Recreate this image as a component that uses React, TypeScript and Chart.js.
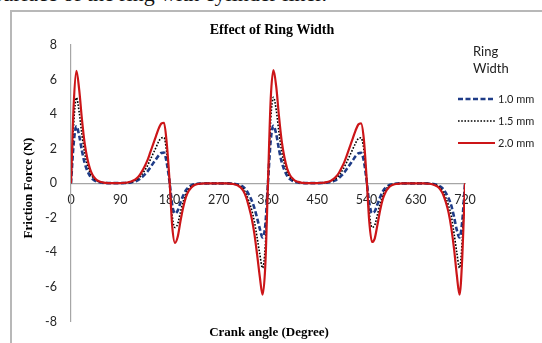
import React, { useEffect, useRef } from "react";
import { Chart, registerables } from "chart.js";

Chart.register(...registerables);

const angles = [
  0, 5, 10, 15, 20, 25, 30, 35, 40, 45, 50, 55, 60, 65, 70, 75, 80, 85, 90, 95,
  100, 105, 110, 115, 120, 125, 130, 135, 140, 145, 150, 155, 160, 165, 170, 175, 180, 185, 190, 195,
  200, 205, 210, 215, 220, 225, 230, 235, 240, 245, 250, 255, 260, 265, 270, 275, 280, 285, 290, 295,
  300, 305, 310, 315, 320, 325, 330, 335, 340, 345, 350, 355, 360, 365, 370, 375, 380, 385, 390, 395,
  400, 405, 410, 415, 420, 425, 430, 435, 440, 445, 450, 455, 460, 465, 470, 475, 480, 485, 490, 495,
  500, 505, 510, 515, 520, 525, 530, 535, 540, 545, 550, 555, 560, 565, 570, 575, 580, 585, 590, 595,
  600, 605, 610, 615, 620, 625, 630, 635, 640, 645, 650, 655, 660, 665, 670, 675, 680, 685, 690, 695,
  700, 705, 710, 715, 720,
];

const width10 = [
  0, 2.35, 3.3, 2.75, 1.88, 1.17, 0.71, 0.41, 0.23, 0.13,
  0.07, 0.04, 0.02, 0.01, 0.01, 0.01, 0.01, 0.01, 0.01, 0.01,
  0.02, 0.03, 0.05, 0.09, 0.14, 0.23, 0.36, 0.51, 0.69, 0.92,
  1.15, 1.37, 1.6, 1.75, 1.77, 1.17, 0.1, -1.27, -1.75, -1.58,
  -1.12, -0.71, -0.41, -0.23, -0.12, -0.06, -0.03, -0.02, -0.01, -0.01,
  -0.01, -0.01, -0.01, -0.01, -0.01, -0.01, -0.01, -0.01, -0.01, -0.02,
  -0.04, -0.07, -0.12, -0.22, -0.39, -0.66, -0.98, -1.42, -2.0, -2.63,
  -3.14, -2.45,
  0.05, 2.5, 3.32, 2.85, 1.97, 1.23, 0.75, 0.43, 0.24, 0.14,
  0.07, 0.04, 0.02, 0.01, 0.01, 0.01, 0.01, 0.01, 0.01, 0.01,
  0.02, 0.03, 0.05, 0.08, 0.13, 0.2, 0.32, 0.47, 0.65, 0.87,
  1.1, 1.33, 1.56, 1.73, 1.76, 1.32, 0.2, -1.12, -1.72, -1.63,
  -1.22, -0.79, -0.46, -0.26, -0.14, -0.07, -0.04, -0.02, -0.01, -0.01,
  -0.01, -0.01, -0.01, -0.01, -0.01, -0.01, -0.01, -0.01, -0.01, -0.02,
  -0.03, -0.06, -0.1, -0.19, -0.33, -0.56, -0.87, -1.3, -1.95, -2.7,
  -3.14, -2.2, 0,
];

const width15 = [
  0, 3.5, 4.95, 4.1, 2.8, 1.75, 1.05, 0.6, 0.34, 0.19,
  0.1, 0.05, 0.03, 0.02, 0.01, 0.01, 0.01, 0.01, 0.01, 0.01,
  0.02, 0.04, 0.08, 0.13, 0.21, 0.34, 0.53, 0.76, 1.03, 1.37,
  1.71, 2.05, 2.4, 2.62, 2.64, 1.75, 0.15, -1.9, -2.56, -2.35,
  -1.67, -1.06, -0.61, -0.34, -0.18, -0.09, -0.05, -0.02, -0.01, -0.01,
  -0.01, -0.01, -0.01, -0.01, -0.01, -0.01, -0.01, -0.01, -0.01, -0.03,
  -0.05, -0.1, -0.19, -0.34, -0.61, -1.03, -1.52, -2.2, -3.12, -4.1,
  -4.9, -3.65,
  0.08, 3.7, 4.97, 4.25, 2.95, 1.85, 1.12, 0.64, 0.36, 0.2,
  0.11, 0.06, 0.03, 0.02, 0.01, 0.01, 0.01, 0.01, 0.01, 0.01,
  0.02, 0.04, 0.07, 0.11, 0.19, 0.3, 0.47, 0.7, 0.97, 1.3,
  1.64, 1.98, 2.32, 2.58, 2.63, 1.98, 0.3, -1.67, -2.55, -2.43,
  -1.82, -1.18, -0.68, -0.38, -0.2, -0.1, -0.05, -0.03, -0.02, -0.01,
  -0.01, -0.01, -0.01, -0.01, -0.01, -0.01, -0.01, -0.01, -0.01, -0.02,
  -0.04, -0.08, -0.15, -0.28, -0.5, -0.84, -1.3, -1.9, -2.9, -4.0,
  -4.9, -3.3, 0,
];

const width20 = [
  0, 4.6, 6.5, 5.4, 3.7, 2.3, 1.4, 0.8, 0.45, 0.25,
  0.13, 0.07, 0.04, 0.02, 0.01, 0.01, 0.01, 0.01, 0.01, 0.02,
  0.03, 0.06, 0.1, 0.17, 0.28, 0.45, 0.7, 1.0, 1.35, 1.8,
  2.25, 2.7, 3.15, 3.45, 3.5, 2.3, 0.2, -2.5, -3.45, -3.1,
  -2.2, -1.4, -0.8, -0.45, -0.24, -0.12, -0.06, -0.03, -0.02, -0.01,
  -0.01, -0.01, -0.01, -0.01, -0.01, -0.01, -0.01, -0.01, -0.02, -0.04,
  -0.07, -0.13, -0.25, -0.45, -0.8, -1.35, -2.0, -2.9, -4.1, -5.4,
  -6.45, -4.8,
  0.1, 4.9, 6.55, 5.6, 3.9, 2.45, 1.5, 0.85, 0.48, 0.27,
  0.14, 0.08, 0.04, 0.02, 0.01, 0.01, 0.01, 0.01, 0.01, 0.02,
  0.03, 0.05, 0.09, 0.15, 0.25, 0.4, 0.62, 0.92, 1.27, 1.7,
  2.15, 2.6, 3.05, 3.4, 3.47, 2.6, 0.4, -2.2, -3.4, -3.2,
  -2.4, -1.55, -0.9, -0.5, -0.27, -0.14, -0.07, -0.04, -0.02, -0.01,
  -0.01, -0.01, -0.01, -0.01, -0.01, -0.01, -0.01, -0.01, -0.02, -0.03,
  -0.06, -0.11, -0.2, -0.37, -0.65, -1.1, -1.7, -2.6, -3.8, -5.3,
  -6.45, -4.3, 0,
];

const xTicks = [0, 90, 180, 270, 360, 450, 540, 630, 720];
const yTicks = [-8, -6, -4, -2, 0, 2, 4, 6, 8];
const seriesNames = ["1.0 mm", "1.5 mm", "2.0 mm"];
const legendTitle = ["Ring", "Width"];
const chartTitle = "Effect of Ring Width";
const xTitle = "Crank angle (Degree)";
const yTitle = "Friction Force (N)";

const TICK_FONT = "Lato";
const SERIF = "'Liberation Serif', 'Times New Roman', serif";

const textPlugin = {
  id: "texts",
  afterDraw(chart: any) {
    const ctx = chart.ctx;
    ctx.save();
    ctx.fillStyle = "#000";
    ctx.textAlign = "center";
    ctx.textBaseline = "middle";
    ctx.font = `bold 14px ${SERIF}`;
    ctx.fillText(chartTitle, 272, 30);
    ctx.font = `bold 13px ${SERIF}`;
    ctx.fillText(xTitle, 269, 333);
    ctx.save();
    ctx.translate(29, 188);
    ctx.rotate(-Math.PI / 2);
    ctx.fillText(yTitle, 0, 0);
    ctx.restore();

    // legend
    ctx.textAlign = "left";
    ctx.fillStyle = "#222";
    ctx.font = `13px ${TICK_FONT}`;
    ctx.fillText(legendTitle[0], 473, 52);
    ctx.fillText(legendTitle[1], 473, 69);
    const rowsY = [99, 121, 143];
    chart.data.datasets.forEach((ds: any, i: number) => {
      const y = rowsY[i];
      ctx.save();
      ctx.strokeStyle = ds.borderColor;
      ctx.lineWidth = ds.borderWidth;
      ctx.setLineDash(ds.borderDash || []);
      ctx.beginPath();
      ctx.moveTo(458, y);
      ctx.lineTo(495, y);
      ctx.stroke();
      ctx.restore();
      ctx.font = `11px ${TICK_FONT}`;
      ctx.fillStyle = "#222";
      ctx.fillText(seriesNames[i], 498, y);
    });
    ctx.restore();
  },
};

export default function App() {
  const ref = useRef<HTMLCanvasElement | null>(null);
  useEffect(() => {
    if (!ref.current) return;
    const mk = (vals: number[]) => angles.map((a, i) => ({ x: a, y: vals[i] }));
    const chart = new Chart(ref.current, {
      type: "line",
      data: {
        datasets: [
          {
            label: seriesNames[0],
            data: mk(width10),
            borderColor: "#1f3c88",
            borderWidth: 2.6,
            borderDash: [5, 2.5],
            order: 2,
          },
          {
            label: seriesNames[1],
            data: mk(width15),
            borderColor: "#000000",
            borderWidth: 1.6,
            borderDash: [1.6, 1.6],
            order: 1,
          },
          {
            label: seriesNames[2],
            data: mk(width20),
            borderColor: "#cc1518",
            borderWidth: 2.2,
            order: 0,
          },
        ],
      },
      options: {
        responsive: false,
        animation: false,
        layout: { padding: { left: 0, top: 45, right: 77, bottom: 21 } },
        elements: {
          point: { radius: 0 },
          line: { cubicInterpolationMode: "monotone", fill: false },
        },
        plugins: {
          legend: { display: false },
          title: { display: false },
          tooltip: { enabled: false },
        },
        scales: {
          x: {
            type: "linear",
            min: 0,
            max: 720,
            position: { y: 0 },
            afterBuildTicks: (s: any) => {
              s.ticks = xTicks.map((v) => ({ value: v }));
            },
            grid: { display: false, drawTicks: false },
            border: { display: true, color: "#a6a6a6", width: 1.2 },
            ticks: {
              autoSkip: false,
              maxRotation: 0,
              padding: 9,
              color: "#262626",
              font: { family: TICK_FONT, size: 12.5 },
            },
          },
          y: {
            type: "linear",
            min: -8,
            max: 8,
            afterBuildTicks: (s: any) => {
              s.ticks = yTicks.map((v) => ({ value: v }));
            },
            afterFit: (s: any) => {
              s.width = 71;
            },
            grid: { display: false, drawTicks: false },
            border: { display: true, color: "#a6a6a6", width: 1.2 },
            ticks: {
              padding: 14,
              color: "#262626",
              font: { family: TICK_FONT, size: 12.5 },
            },
          },
        },
      },
      plugins: [textPlugin],
    } as any);
    return () => chart.destroy();
  }, []);

  return (
    <div
      style={{
        position: "fixed",
        left: 0,
        top: 0,
        width: 542,
        height: 343,
        overflow: "hidden",
        background: "#fff",
      }}
    >
      <div
        style={{
          position: "absolute",
          left: -6,
          top: -17,
          fontFamily: SERIF,
          fontSize: 22,
          lineHeight: "22px",
          whiteSpace: "nowrap",
          color: "#111",
        }}
      >
        surface of the ring with cylinder liner.
      </div>
      <div
        style={{
          position: "absolute",
          left: 10,
          top: 10,
          width: 560,
          height: 360,
          borderLeft: "2px solid #b8b8b8",
          borderTop: "2px solid #b8b8b8",
        }}
      />
      <canvas
        ref={ref}
        width={542}
        height={343}
        style={{ position: "absolute", left: 0, top: 0 }}
      />
    </div>
  );
}
